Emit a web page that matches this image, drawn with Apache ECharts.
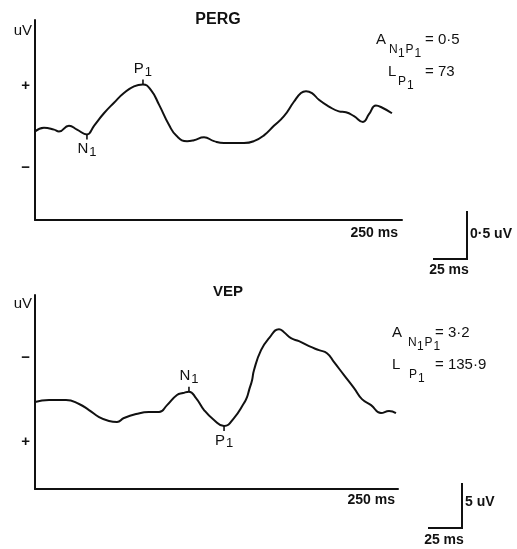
<!DOCTYPE html>
<html><head><meta charset="utf-8">
<script src="https://cdn.jsdelivr.net/npm/echarts@6/dist/echarts.min.js"></script>
<style>html,body{margin:0;padding:0;background:#fff}#c{width:517px;height:549px}</style>
</head><body><div id="c"></div>
<script>
// ---- PERG (top panel): time in ms, amplitude in uV (positive up) ----
const pergTime = [0, 6.6, 14.0, 17.6, 25.0, 30.9, 38.2, 43.4, 50.7, 58.1, 65.4, 72.8, 79.4, 85.3, 91.2, 98.5, 104.4, 111.8, 116.9, 124.3, 131.6, 139.0, 146.3, 153.7, 161.0, 168.4, 175.7, 183.1, 190.4, 195.6, 199.3, 203.7, 208.8, 216.2, 223.5, 228.7, 234.6, 241.2, 245.6, 250.7, 255.1, 262.5];
const pergUV = [-0.05, -0.01, -0.03, -0.05, 0.01, -0.03, -0.08, 0.01, 0.14, 0.25, 0.35, 0.42, 0.44, 0.38, 0.23, 0.02, -0.10, -0.15, -0.14, -0.11, -0.15, -0.17, -0.17, -0.17, -0.15, -0.09, 0.01, 0.11, 0.26, 0.35, 0.37, 0.35, 0.28, 0.21, 0.16, 0.15, 0.11, 0.05, 0.13, 0.22, 0.20, 0.14];
const pergPeakNames = ['N1', 'P1'];
const pergPeakTime = [38.2, 79.4];
const pergPeakUV = [-0.08, 0.44];
const pergAxisMarks = [0.43, -0.43];
const pergAxisMarkText = ['+', '\u2212'];
const pergStats = [['A', 'N1P1', '= 0\u00b75'], ['L', 'P1', '= 73']];
const pergRange = [-0.97, 1.11];
const pergTimeMax = 269.9;

// ---- VEP (bottom panel): time in ms, amplitude in uV (negative up) ----
const vepTime = [0, 10.3, 22.8, 32.4, 39.7, 47.1, 54.4, 60.3, 65.4, 74.3, 83.8, 91.2, 97.1, 104.4, 108.8, 113.2, 118.4, 124.3, 131.6, 139.0, 146.3, 153.7, 155.9, 157.4, 159.6, 161.0, 166.2, 172.1, 179.4, 183.1, 188.2, 194.1, 201.5, 208.8, 214.7, 219.9, 227.2, 234.6, 240.4, 247.1, 254.4, 260.3, 265.4];
const vepUV = [0.22, 0.0, 0.0, 0.44, 1.11, 1.89, 2.33, 2.44, 2.0, 1.56, 1.33, 1.33, 0.56, -0.56, -0.78, -0.94, -0.22, 1.11, 2.22, 2.89, 2.0, 0.33, -0.33, -1.11, -2.22, -3.33, -5.56, -6.89, -7.89, -7.56, -6.89, -6.56, -6.0, -5.56, -5.22, -4.22, -2.78, -1.33, -0.11, 0.56, 1.44, 1.22, 1.44];
const vepPeakNames = ['N1', 'P1'];
const vepPeakTime = [113.2, 139.0];
const vepPeakUV = [-0.94, 2.89];
const vepAxisMarks = [-4.7, 4.7];
const vepAxisMarkText = ['\u2212', '+'];
const vepStats = [['A', 'N1P1', '= 3\u00b72'], ['L', 'P1', '= 135\u00b79']];
const vepRange = [-11.7, 9.9];
const vepTimeMax = 266.9;

// scale bars
const scaleMs = 25;
const pergScaleUV = 0.5;
const vepScaleUV = 5;

const FONT = '"Liberation Sans", Arial, Helvetica, sans-serif';
const INK = '#111';

const grids = [
  {left: 35, top: 20, width: 367, height: 200},
  {left: 35, top: 295, width: 363, height: 194}
];

function zip(a, b) { return a.map((v, i) => [v, b[i]]); }

function yAxis(idx, range, marks, markText, inverse) {
  return {
    type: 'value', gridIndex: idx, min: range[0], max: range[1], inverse: inverse,
    axisLine: {show: true, onZero: false, lineStyle: {color: INK, width: 2}},
    axisTick: {show: false}, splitLine: {show: false},
    axisLabel: {
      show: true, customValues: marks, margin: 5,
      formatter: v => { const i = marks.findIndex(m => Math.abs(m - v) < 1e-6); return i >= 0 ? markText[i] : ''; },
      color: INK, fontSize: 15, fontWeight: 'bold', fontFamily: FONT
    }
  };
}
function xAxis(idx, max) {
  return {
    type: 'value', gridIndex: idx, min: 0, max: max,
    axisLine: {show: true, onZero: false, lineStyle: {color: INK, width: 2}},
    axisTick: {show: false}, axisLabel: {show: false}, splitLine: {show: false}
  };
}
function peakSeries(idx, names, times, vals, inverse) {
  return {
    type: 'scatter', xAxisIndex: idx, yAxisIndex: idx, z: 5,
    data: names.map((n, i) => {
      const up = inverse ? vals[i] < 0 : vals[i] > 0;
      return {
        name: n, value: [times[i], vals[i]],
        symbolOffset: [0, up ? -2.5 : 2.5],
        label: {position: up ? 'top' : 'bottom', distance: up ? 3 : 2}
      };
    }),
    symbol: 'rect', symbolSize: [1.6, 5],
    itemStyle: {color: INK, opacity: 1},
    label: {
      show: true, color: INK, opacity: 1,
      formatter: p => '{m|' + p.name.charAt(0) + '}{s|' + p.name.slice(1) + '}',
      rich: {
        m: {fontSize: 15, fontFamily: FONT, color: INK, lineHeight: 15},
        s: {fontSize: 13, fontFamily: FONT, color: INK, lineHeight: 13, padding: [6, 0, 0, 1]}
      }
    }
  };
}
function lineSeries(idx, t, v) {
  return {
    type: 'line', xAxisIndex: idx, yAxisIndex: idx, data: zip(t, v),
    showSymbol: false, smooth: 0.5,
    lineStyle: {color: INK, width: 2}
  };
}

function txt(x, y, s, size, bold, align) {
  return {type: 'text', x: x, y: y, style: {text: s, fill: INK, align: align || 'left', verticalAlign: 'middle',
    font: (bold ? 'bold ' : '') + size + 'px ' + FONT}};
}
// Stat line like A_{N1P1} = 0.5 ; subscript letters with their own subscripted digit
function statLine(x, y, stat, subX, eqX) {
  const out = [txt(x, y, stat[0], 15, false)];
  let sx = subX;
  const sub = stat[1];
  for (let i = 0; i < sub.length; i++) {
    const ch = sub[i];
    if (/[0-9]/.test(ch)) { out.push(txt(sx, y + 14, ch, 12, false)); sx += 7.5; }
    else { out.push(txt(sx, y + 10, ch, 12, false)); sx += 9; }
  }
  out.push(txt(eqX, y, stat[2], 15, false));
  return out;
}
function scaleBar(cx, cy, msPx, uvPx, uvText, uvLabelY, msLabelY) {
  return [
    {type: 'polyline', shape: {points: [[cx - msPx, cy], [cx, cy], [cx, cy - uvPx]]},
      style: {stroke: INK, lineWidth: 2, fill: null}},
    txt(cx + 3, uvLabelY, uvText, 14, true),
    txt(cx - msPx / 2 - 1, msLabelY, scaleMs + ' ms', 14, true, 'center')
  ];
}

const pxPerMs0 = grids[0].width / pergTimeMax;
const pxPerUV0 = grids[0].height / (pergRange[1] - pergRange[0]);
const pxPerMs1 = grids[1].width / vepTimeMax;
const pxPerUV1 = grids[1].height / (vepRange[1] - vepRange[0]);

const graphics = [].concat(
  [txt(218, 20, 'PERG', 16, true, 'center'), txt(228, 292, 'VEP', 15, true, 'center'),
   txt(32, 31, 'uV', 15, false, 'right'), txt(32, 304, 'uV', 15, false, 'right'),
   txt(398, 233, '250 ms', 14, true, 'right'), txt(395, 500, '250 ms', 14, true, 'right')],
  statLine(376, 40, pergStats[0], 389, 425),
  statLine(388, 72, pergStats[1], 398, 425),
  statLine(392, 333, vepStats[0], 408, 435),
  statLine(392, 365, vepStats[1], 409, 435),
  scaleBar(467, 259, scaleMs * pxPerMs0, pergScaleUV * pxPerUV0, '0\u00b75 uV', 234, 270),
  scaleBar(462, 528, scaleMs * pxPerMs1, vepScaleUV * pxPerUV1, vepScaleUV + ' uV', 502, 540)
);

const chart = echarts.init(document.getElementById('c'), null, {renderer: 'canvas'});
chart.setOption({
  animation: false,
  backgroundColor: '#fff',
  grid: grids,
  xAxis: [xAxis(0, pergTimeMax), xAxis(1, vepTimeMax)],
  yAxis: [yAxis(0, pergRange, pergAxisMarks, pergAxisMarkText, false),
          yAxis(1, vepRange, vepAxisMarks, vepAxisMarkText, true)],
  series: [
    lineSeries(0, pergTime, pergUV),
    peakSeries(0, pergPeakNames, pergPeakTime, pergPeakUV, false),
    lineSeries(1, vepTime, vepUV),
    peakSeries(1, vepPeakNames, vepPeakTime, vepPeakUV, true)
  ],
  graphic: graphics
});
</script></body></html>
